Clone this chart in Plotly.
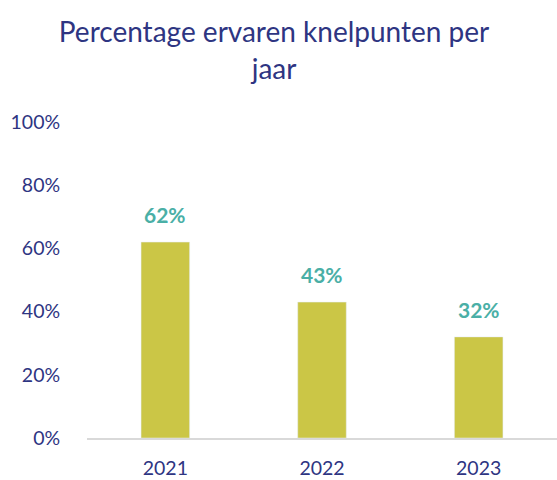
import plotly.graph_objects as go

years = ["2021", "2022", "2023"]
percentages = [62, 43, 32]
y_ticks = [0, 20, 40, 60, 80, 100]
y_tick_labels = [f"{v}%" for v in y_ticks]

navy = "#2E3582"
teal = "#4AAFA6"
olive = "#CBC646"
font_family = "Lato, 'Open Sans', sans-serif"

fig = go.Figure(
    go.Bar(
        x=years,
        y=percentages,
        marker_color=olive,
        width=0.31,
    )
)

# Value labels above each bar (x given as category index)
for i, val in enumerate(percentages):
    fig.add_annotation(
        x=i, y=val, text=f"<b>{val}%</b>", showarrow=False,
        xref="x", yref="y",
        yanchor="bottom", yshift=13,
        font=dict(family=font_family, size=21, color=teal),
    )

fig.update_layout(
    width=557, height=480,
    margin=dict(l=87, r=0, t=122, b=42),
    paper_bgcolor="white", plot_bgcolor="white",
    showlegend=False,
    title=dict(
        text="Percentage ervaren knelpunten per<br>jaar",
        x=0.492, xanchor="center", xref="container",
        y=0.912, yanchor="top", yref="container",
        font=dict(family=font_family, size=28, color=navy),
    ),
    xaxis=dict(
        type="category",
        categoryorder="array", categoryarray=years,
        range=[-0.5, len(years) - 0.5],
        showline=True, linecolor="#D9D9D9", linewidth=2,
        ticks="outside", ticklen=12, tickcolor="rgba(0,0,0,0)",
        showgrid=False,
        tickfont=dict(family=font_family, size=19.5, color=navy),
    ),
    yaxis=dict(
        range=[0, 100], tickvals=y_ticks, ticktext=y_tick_labels,
        showgrid=False, zeroline=False, showline=False,
        ticks="outside", ticklen=22, tickcolor="rgba(0,0,0,0)",
        tickfont=dict(family=font_family, size=19.5, color=navy),
    ),
)

fig.write_html("out.html")
